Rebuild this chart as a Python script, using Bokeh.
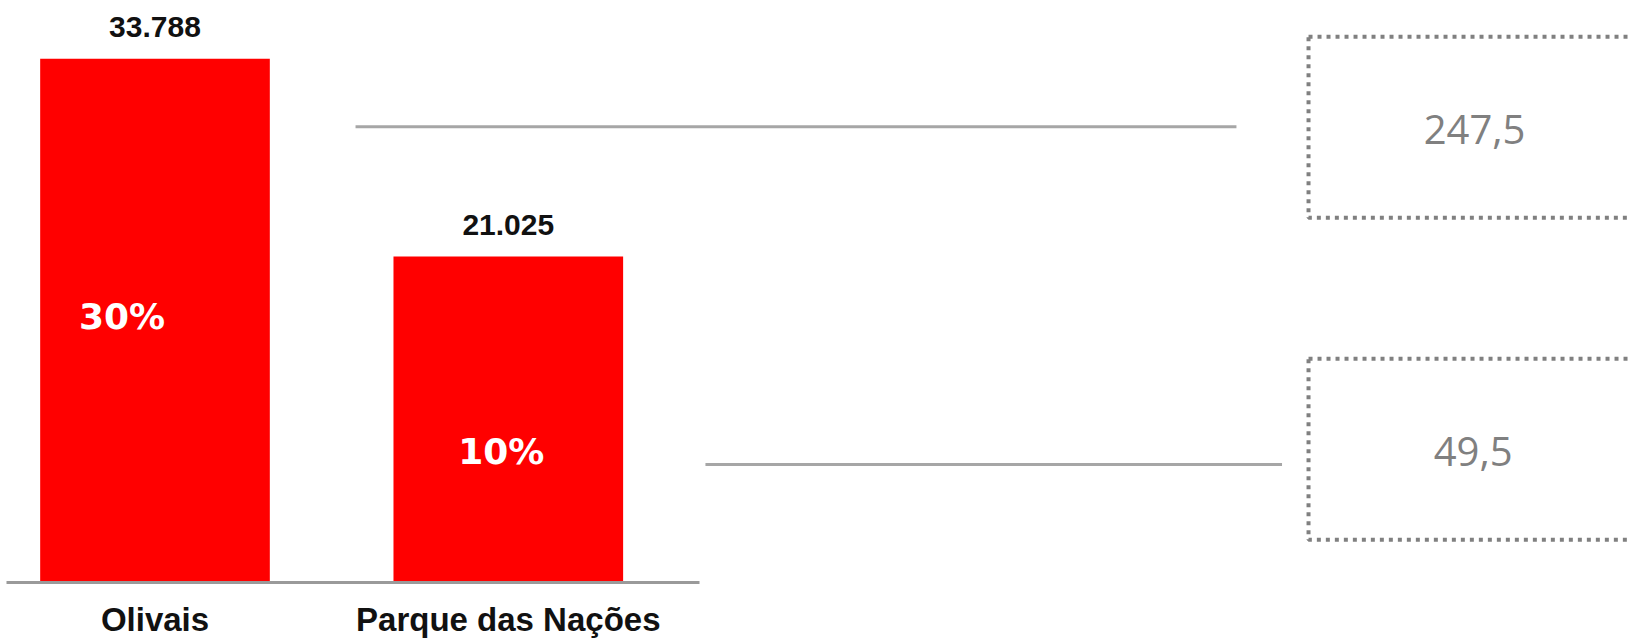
from bokeh.plotting import figure
from bokeh.models import Range1d, FixedTicker, ColumnDataSource
from bokeh.embed import file_html
from bokeh.resources import INLINE
from bokeh.core.properties import value

# ---- data ----
categories = ["Olivais", "Parque das Nações"]
totals = [33788, 21025]
total_labels = ["33.788", "21.025"]
shares = ["30%", "10%"]
box_values = ["247,5", "49,5"]

# ---- layout helpers (positions / styles) ----
xpos = list(range(len(categories)))
BAR_W = 0.65
share_y_frac = [0.5083, 0.4026]
share_x_off = [-33, -7]

src = ColumnDataSource(dict(
    x=xpos,
    top=totals,
    lab=total_labels,
    share=shares,
    share_y=[t * f for t, f in zip(totals, share_y_frac)],
    share_xo=share_x_off,
))

p = figure(width=1629, height=642,
           x_range=Range1d(-0.4373, 4.1735), y_range=Range1d(0, 37548),
           output_backend="svg", toolbar_location=None,
           min_border_left=0, min_border_right=0, min_border_top=0, min_border_bottom=60)
p.background_fill_color = "white"
p.border_fill_color = "white"
p.outline_line_color = None
p.grid.visible = False
p.yaxis.visible = False

p.vbar(x="x", top="top", width=BAR_W, bottom=0, source=src,
       fill_color="#FF0000", line_color=None)

p.text(x="x", y="top", text="lab", source=src, y_offset=-32,
       text_align="center", text_baseline="alphabetic",
       text_font=value("Liberation Sans"), text_font_style="bold",
       text_font_size="30px", text_color="#111111")

p.text(x="x", y="share_y", text="share", source=src, x_offset="share_xo",
       text_align="center", text_baseline="alphabetic",
       text_font=value("DejaVu Sans"), text_font_style="bold",
       text_font_size="36px", text_color="white")

# connector lines
p.segment(x0=[0.5676, 1.558], y0=[29400, 7613], x1=[3.061, 3.190], y1=[29400, 7613],
          line_color="#a6a6a6", line_width=3)

# dotted boxes
p.quad(left=[3.265, 3.265], right=[4.3, 4.3], top=[35206, 14432], bottom=[23529, 2755],
       fill_color=None, line_color="#808080", line_width=4, line_dash="4 5")

p.text(x=[3.735, 3.731], y=[29213, 8465], text=box_values,
       text_align="center", text_baseline="alphabetic",
       text_font=value("Open Sans"), text_font_size="40px", text_color="#808080")

ax = p.xaxis[0]
ax.ticker = FixedTicker(ticks=xpos)
ax.major_label_overrides = {i: c for i, c in zip(xpos, categories)}
ax.axis_line_color = "#9a9a9a"
ax.axis_line_width = 3
ax.bounds = (-0.4203, 1.541)
ax.major_tick_line_color = None
ax.minor_tick_line_color = None
ax.major_tick_out = 0
ax.major_tick_in = 0
ax.major_label_standoff = 18
ax.major_label_text_font = "Liberation Sans"
ax.major_label_text_font_style = "bold"
ax.major_label_text_font_size = "33px"
ax.major_label_text_color = "#111111"

open("out.html", "w").write(file_html(p, INLINE))
